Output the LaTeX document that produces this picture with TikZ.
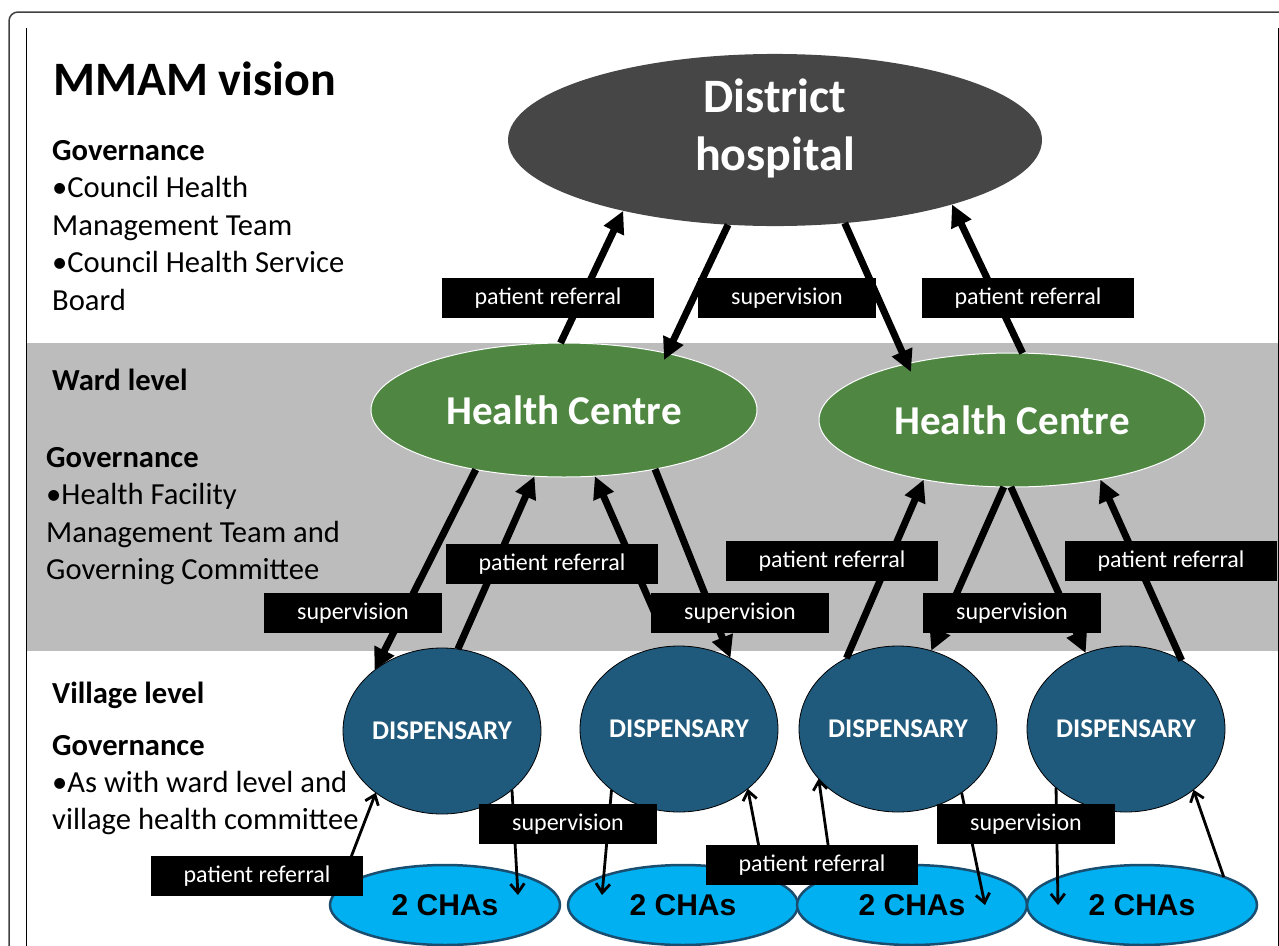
\documentclass[tikz,border=0pt]{standalone}
\usepackage{fontspec}
\setmainfont{Carlito}
\newfontfamily\arialfont{Liberation Sans}
\usetikzlibrary{shapes.geometric,arrows.meta}
\definecolor{hospitalgray}{RGB}{70,70,70}
\definecolor{centregreen}{RGB}{79,135,66}
\definecolor{dispblue}{RGB}{31,89,124}
\definecolor{chacyan}{RGB}{0,176,240}
\definecolor{chaedge}{RGB}{26,78,112}
\definecolor{bandgray}{RGB}{188,188,188}

\begin{document}
\begin{tikzpicture}
      [x=1pt, y=-1pt,
       hospital/.style={ellipse, fill=hospitalgray, text=white, inner sep=0pt, outer sep=0pt,
         minimum width=534pt, minimum height=164pt, align=center,
         font=\fontsize{48pt}{58pt}\selectfont\bfseries},
       centre/.style={ellipse, fill=centregreen, draw=white, line width=1pt, text=white,
         inner sep=0pt, outer sep=0pt, minimum width=386pt, minimum height=134pt,
         font=\fontsize{41pt}{48pt}\selectfont\bfseries},
       dispensary/.style={ellipse, fill=dispblue, draw=black, line width=0.8pt, text=white,
         inner sep=0pt, outer sep=0pt, minimum width=198pt, minimum height=166pt,
         font=\fontsize{27pt}{32pt}\selectfont\bfseries},
       chas/.style={ellipse, fill=chacyan, draw=chaedge, line width=2.5pt, text=black,
         inner sep=0pt, outer sep=0pt, minimum width=230pt, minimum height=80pt,
         font=\fontsize{30pt}{36pt}\selectfont\arialfont\bfseries},
       tagbox/.style={fill=black, text=white, inner xsep=33pt, inner ysep=0pt,
         minimum height=40pt, font=\fontsize{24pt}{28pt}\selectfont},
       sidetext/.style={anchor=base west, align=left, inner sep=0pt,
         font=\fontsize{30.6pt}{37.5pt}\selectfont},
       bigarrow/.style={line width=7pt, -{Triangle[length=22pt, width=21pt]}},
       thinarrow/.style={line width=2.8pt, -{Straight Barb[length=9pt, width=14pt]}}]
      \useasboundingbox (0,0) rectangle (1279,945);
      \fill[bandgray] (26,343) rectangle (1278,651);
      \draw[line width=1.5pt, black!75, rounded corners=9pt] (9,960) -- (9,12) -- (1290,12);
      \draw[line width=1pt] (26,28) -- (26,960);
      \draw[line width=1pt] (1278,28) -- (1278,960);

      \node[sidetext, font=\fontsize{48pt}{56pt}\selectfont\bfseries](25) at (53,95) {MMAM vision};
      \node[sidetext](26) at (52,310) {\textbf{Governance}\\•Council Health\\Management Team\\•Council Health Service\\Board};
      \node[sidetext, font=\fontsize{30.6pt}{37.5pt}\selectfont\bfseries](27) at (52,390) {Ward level};
      \node[sidetext](28) at (46,579.5) {\textbf{Governance}\\•Health Facility\\Management Team and\\Governing Committee};
      \node[sidetext, font=\fontsize{30.6pt}{37.5pt}\selectfont\bfseries](29) at (52,703) {Village level};
      \node[sidetext, font=\fontsize{30.6pt}{37pt}\selectfont](30) at (52,829) {\textbf{Governance}\\•As with ward level and\\village health committee};

      \node[hospital](1) at (775,140) {District\\hospital\rule[-30pt]{0pt}{0pt}};
      \node[centre](2) at (564,410) {Health Centre};
      \node[centre](3) at (1012,420) {Health Centre};
      \node[dispensary](4) at (442,731) {DISPENSARY};
      \node[dispensary](5) at (679,729) {DISPENSARY};
      \node[dispensary](6) at (898,729) {DISPENSARY};
      \node[dispensary](7) at (1126,729) {DISPENSARY};
      \node[chas](8) at (445,905) {2 CHAs};
      \node[chas](9) at (683,905) {2 CHAs};
      \node[chas](10) at (912,905) {2 CHAs};
      \node[chas](11) at (1142,905) {2 CHAs};

      \draw[bigarrow](2.93) -- (1.205);
      \draw[bigarrow](1.241) -- ([shift={(100,-50)}]2.center);
      \draw[bigarrow](1.310) -- ([shift={(-101,-48)}]3.center);
      \draw[bigarrow](3.81) -- (1.340);
      \draw[bigarrow](2.214) -- (4.138);
      \draw[bigarrow](4.79) -- (2.246);
      \draw[bigarrow]([shift={(-19,-104)}]5.center) -- (2.295);
      \draw[bigarrow](2.327) -- (5.54);
      \draw[bigarrow](6.126) -- (3.214);
      \draw[bigarrow](3.263) -- (6.67);
      \draw[bigarrow](3.269) -- (7.118);
      \draw[bigarrow](7.51) -- (3.326);

      \draw[thinarrow](8.172) -- (4.223);
      \draw[thinarrow](4.320) -- ([shift={(73,-10)}]8.center);
      \draw[thinarrow](5.222) -- ([shift={(-81,-10)}]9.center);
      \draw[thinarrow](9.19) -- (5.319);
      \draw[thinarrow](10.160) -- (6.212);
      \draw[thinarrow](6.315) -- ([shift={(73,0)}]10.center);
      \draw[thinarrow](7.220) -- ([shift={(-84,0)}]11.center);
      \draw[thinarrow](11.19) -- (7.318);

      \node[tagbox](12) at (548,298) {patient referral};
      \node[tagbox](13) at (787,298) {supervision};
      \node[tagbox](14) at (1028,298) {patient referral};
      \node[tagbox](15) at (552,564) {patient referral};
      \node[tagbox](16) at (353,613) {supervision};
      \node[tagbox](17) at (740,613) {supervision};
      \node[tagbox](18) at (832,561) {patient referral};
      \node[tagbox](19) at (1012,613) {supervision};
      \node[tagbox](20) at (1171,561) {patient referral};
      \node[tagbox](21) at (568,824) {supervision};
      \node[tagbox](22) at (257,876) {patient referral};
      \node[tagbox](23) at (812,865) {patient referral};
      \node[tagbox](24) at (1026,824) {supervision};
  \end{tikzpicture}
\end{document}
